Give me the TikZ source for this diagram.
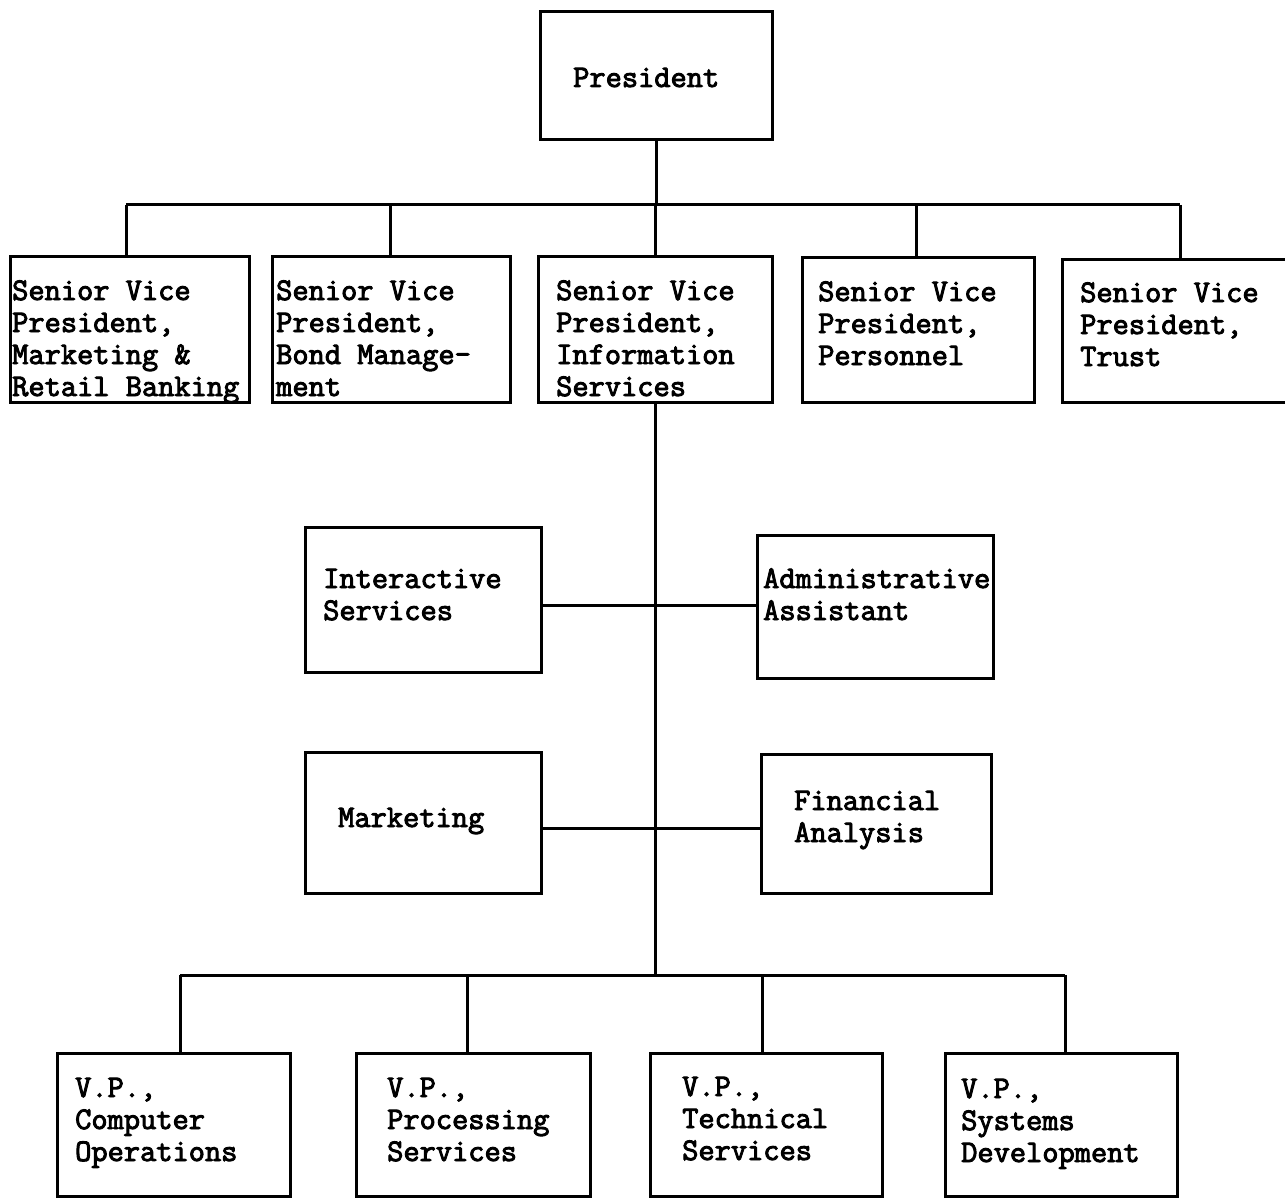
\documentclass[tikz,border=0pt]{standalone}
\usepackage{fontspec}
\newfontfamily\tw{Latin Modern Mono}[BoldFont={Latin Modern Mono}, BoldFeatures={FakeBold=3}]
\begin{document}
\begin{tikzpicture}[x=1pt,y=-1pt,
  box/.style={draw, line width=3pt, inner sep=0pt, minimum width=#1},
  txt/.style={anchor=base west, inner sep=0pt, align=left, font=\tw\bfseries\fontsize{31.5}{32}\selectfont},
  con/.style={line width=3pt}]
\useasboundingbox (0,0) rectangle (1285,1198);
% President
\node[box=232pt, minimum height=128pt] (pres) at (656,76) {};
\node[txt] (tpres) at (573,87) {President};
% SVP row
\node[box=239pt, minimum height=145pt] (s1) at (129.5,329.5) {};
\node[box=238pt, minimum height=145pt] (s2) at (391,329.5) {};
\node[box=234pt, minimum height=145pt] (s3) at (655,329.5) {};
\node[box=232pt, minimum height=144pt] (s4) at (918,330) {};
\node[box=236pt, minimum height=142pt] (s5) at (1180,331) {};
\node[txt] (t1) at (12,396) {Senior Vice\\President,\\Marketing \&\\Retail Banking};
\node[txt] (t2) at (276,396) {Senior Vice\\President,\\Bond Manage-\\ment};
\node[txt] (t3) at (556,396) {Senior Vice\\President,\\Information\\Services};
\node[txt] (t4) at (818,365) {Senior Vice\\President,\\Personnel};
\node[txt] (t5) at (1080,366) {Senior Vice\\President,\\Trust};
% staff boxes
\node[box=236pt, minimum height=145pt] (is) at (423,599.5) {};
\node[box=236pt, minimum height=143pt] (aa) at (875,606.5) {};
\node[box=236pt, minimum height=141pt] (mk) at (423,822.5) {};
\node[box=230pt, minimum height=139pt] (fa) at (876,823.5) {};
\node[txt] (tis) at (323,620) {Interactive\\Services};
\node[txt] (taa) at (763,620) {Administrative\\Assistant};
\node[txt] (tmk) at (338,827) {Marketing};
\node[txt] (tfa) at (794,842) {Financial\\Analysis};
% VP row
\node[box=233pt, minimum height=143pt] (v1) at (173.5,1124.5) {};
\node[box=234pt, minimum height=143pt] (v2) at (473,1124.5) {};
\node[box=232pt, minimum height=143pt] (v3) at (766,1124.5) {};
\node[box=232pt, minimum height=143pt] (v4) at (1061,1124.5) {};
\node[txt] (tv1) at (75,1161) {V.P.,\\Computer\\Operations};
\node[txt] (tv2) at (387,1161) {V.P.,\\Processing\\Services};
\node[txt] (tv3) at (682,1160) {V.P.,\\Technical\\Services};
\node[txt] (tv4) at (961,1162) {V.P.,\\Systems\\Development};
% connectors
\coordinate (tb) at (655,205);
\coordinate (lb) at (655,975);
\coordinate (h1) at (655,605);
\coordinate (h2) at (655,828);
\coordinate (d1) at ([xshift=-3.5pt]s1.north);
\coordinate (d2) at ([xshift=-1pt]s2.north);
\coordinate (d3) at (s3.north);
\coordinate (d4) at ([xshift=-2pt]s4.north);
\coordinate (d5) at (s5.north);
\coordinate (e1) at ([xshift=6.5pt]v1.north);
\coordinate (e2) at ([xshift=-6pt]v2.north);
\coordinate (e3) at ([xshift=-4pt]v3.north);
\coordinate (e4) at ([xshift=4pt]v4.north);
\draw[con] (pres.south) -- (pres.south |- tb);
\draw[con] (d1 |- tb) -- (d5 |- tb);
\foreach \n in {d1,d2,d3,d4,d5} \draw[con] (\n |- tb) -- (\n);
\draw[con] (s3.south) -- (lb);
\draw[con] (is.east |- h1) -- (aa.west |- h1);
\draw[con] (mk.east |- h2) -- (fa.west |- h2);
\draw[con] (e1 |- lb) -- (e4 |- lb);
\foreach \n in {e1,e2,e3,e4} \draw[con] (\n |- lb) -- (\n);
\end{tikzpicture}
\end{document}
